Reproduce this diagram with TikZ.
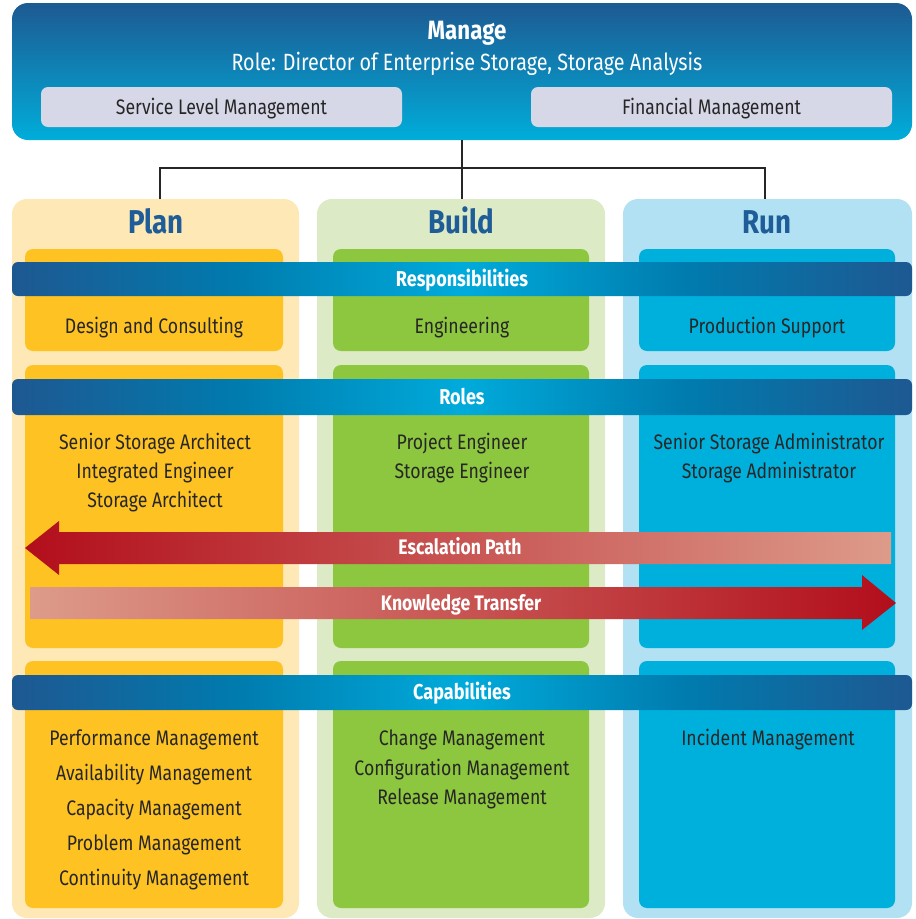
\documentclass[tikz,border=0pt]{standalone}
\usepackage{fontspec}
\setmainfont{Fira Sans}[FakeStretch=0.84]
\usetikzlibrary{positioning}
\definecolor{mtop}{HTML}{1D5A92}
\definecolor{mbot}{HTML}{00ADDA}
\definecolor{svc}{HTML}{D6D8E8}
\definecolor{txt}{HTML}{262626}
\definecolor{ttl}{HTML}{1F5D99}
\definecolor{planO}{HTML}{FDE8B6}
\definecolor{planI}{HTML}{FEC323}
\definecolor{buildO}{HTML}{DCEAC6}
\definecolor{buildI}{HTML}{8DC63F}
\definecolor{runO}{HTML}{B1E1F2}
\definecolor{runI}{HTML}{00B0DC}
\definecolor{bdark}{HTML}{1E5891}
\definecolor{bmid}{HTML}{007BAE}
\definecolor{bcyan}{HTML}{00ABDB}
\definecolor{rdark}{HTML}{B20E1B}
\definecolor{rlight}{HTML}{DD9B8A}
\pgfdeclarehorizontalshading{bannershade}{100bp}{color(0bp)=(bdark); color(25bp)=(bdark); color(37.5bp)=(bmid); color(50bp)=(bcyan); color(62.5bp)=(bmid); color(75bp)=(bdark); color(100bp)=(bdark)}
\tikzset{
  outerbox/.style={rectangle, rounded corners=15pt, inner sep=0pt, minimum height=719},
  innerbox/.style={rectangle, rounded corners=8pt, inner sep=0pt},
  banner/.style={rectangle, shade, shading=bannershade, rounded corners=6pt, inner sep=0pt,
     minimum width=900, text=white, font=\bfseries\fontsize{21.5}{25}\selectfont, text height=14.5pt, text depth=0pt},
  svcbox/.style={rectangle, fill=svc, rounded corners=7pt, inner sep=0pt, minimum width=361, minimum height=40,
     text=txt, font=\fontsize{21}{25}\selectfont, text height=14.5pt, text depth=0pt},
  coltitle/.style={anchor=base, text=ttl, font=\bfseries\fontsize{33}{38}\selectfont, inner sep=0pt},
  body/.style={anchor=base, text=txt, font=\fontsize{21}{25}\selectfont, inner sep=0pt},
  arrowlabel/.style={anchor=base, text=white, font=\bfseries\fontsize{21}{25}\selectfont, inner sep=0pt},
  link/.style={draw=black!85, line width=1.2pt}
}
\begin{document}
\begin{tikzpicture}[x=1pt,y=-1pt]
\useasboundingbox (0,0) rectangle (916,919);
% Manage box
\node[rectangle, rounded corners=16pt, inner sep=0pt, minimum width=900, minimum height=137,
      top color=mtop, bottom color=mbot] (manage) at (462,71.5) {};
\node[anchor=base, text=white, font=\bfseries\fontsize{26.5}{30}\selectfont, inner sep=0pt] (managet) at (467,39.5) {Manage};
\node[anchor=base, text=white, font=\fontsize{23.5}{27}\selectfont, inner sep=0pt] (role) at (467,70) {Role: Director of Enterprise Storage, Storage Analysis};
\node[svcbox] (slm) at (221.5,107) {Service Level Management};
\node[svcbox] (fin) at (711.5,107) {Financial Management};

% Columns
\node[outerbox, fill=planO, minimum width=287] (plan) at (155.5,558.5) {};
\node[outerbox, fill=buildO, minimum width=288] (build) at (461,558.5) {};
\node[outerbox, fill=runO, minimum width=289] (run) at (767.5,558.5) {};

% connectors
\coordinate (hub) at (462,168);
\coordinate (pj) at (160,199);
\coordinate (rj) at (765,199);
\draw[link] (manage.south -| hub) -- (build.north -| hub);
\draw[link] (pj) |- (hub) -| (rj);

\node[coltitle] (plant) at (156,233) {Plan};
\node[coltitle] (buildt) at (461,233) {Build};
\node[coltitle] (runt) at (767,233) {Run};

% inner boxes
\foreach \nm/\cx/\w/\col in {p/154/258/planI, b/461/256/buildI, r/767/256/runI}{
  \node[innerbox, fill=\col, minimum width=\w, minimum height=102] (\nm1) at (\cx,300) {};
  \node[innerbox, fill=\col, minimum width=\w, minimum height=283] (\nm2) at (\cx,506.5) {};
  \node[innerbox, fill=\col, minimum width=\w, minimum height=247] (\nm3) at (\cx,784.5) {};
}

% banners
\node[banner, minimum height=34] (resp) at (462,279) {Responsibilities};
\node[banner, minimum height=36] (roles) at (462,397) {Roles};
\node[banner, minimum height=35] (caps) at (462,692.5) {Capabilities};

% responsibilities
\node[body] (dc) at (154,333) {Design and Consulting};
\node[body] (eng) at (462,333) {Engineering};
\node[body] (ps) at (767,333) {Production Support};

% roles
\node[body] (pr1) at (155,449.5) {Senior Storage Architect};
\node[body] (pr2) at (155,478.5) {Integrated Engineer};
\node[body] (pr3) at (155,507.5) {Storage Architect};
\node[body] (br1) at (462,449.5) {Project Engineer};
\node[body] (br2) at (462,478.5) {Storage Engineer};
\node[body] (rr1) at (769,449.5) {Senior Storage Administrator};
\node[body] (rr2) at (769,478.5) {Storage Administrator};

% arrows
\shade[left color=rdark, right color=rlight]
  (25,548) -- (59,521) -- (59,532) -- (891,532) -- (891,564) -- (59,564) -- (59,575) -- cycle;
\node[arrowlabel] (esc) at (460,554) {Escalation Path};
\shade[left color=rlight, right color=rdark]
  (30,587) -- (862,587) -- (862,575) -- (896,603) -- (862,630) -- (862,619) -- (30,619) -- cycle;
\node[arrowlabel] (kt) at (461,610) {Knowledge Transfer};

% capabilities
\node[body] (pc1) at (154,745) {Performance Management};
\node[body] (pc2) at (154,780) {Availability Management};
\node[body] (pc3) at (154,815) {Capacity Management};
\node[body] (pc4) at (154,850) {Problem Management};
\node[body] (pc5) at (154,885) {Continuity Management};
\node[body] (bc1) at (462,745) {Change Management};
\node[body] (bc2) at (462,775) {Configuration Management};
\node[body] (bc3) at (462,804) {Release Management};
\node[body] (rc1) at (768,745) {Incident Management};
\end{tikzpicture}
\end{document}
